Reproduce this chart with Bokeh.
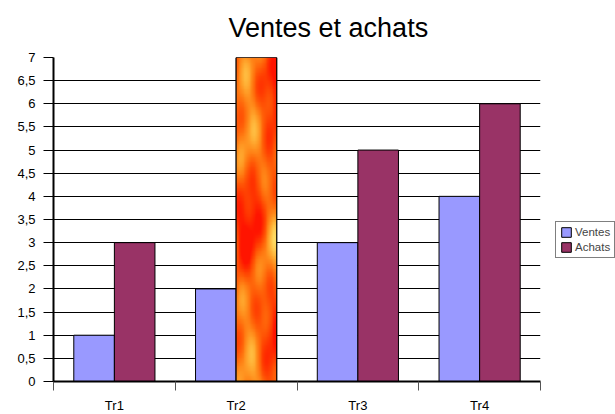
import numpy as np
from bokeh.plotting import figure
from bokeh.models import FixedTicker, Legend, LegendItem, ColumnDataSource
from bokeh.embed import file_html
from bokeh.resources import INLINE

categories = ["Tr1", "Tr2", "Tr3", "Tr4"]
ventes = [1, 2, 3, 4]
achats = [3, 7, 5, 6]
y_ticks = [0, 0.5, 1, 1.5, 2, 2.5, 3, 3.5, 4, 4.5, 5, 5.5, 6, 6.5, 7]
textured_index = 1  # the Tr2 "Achats" bar is drawn with a flame texture

BAR_W = 1 / 3
idx = np.arange(len(categories))
xv = idx + 0.5 - BAR_W / 2
xa = idx + 0.5 + BAR_W / 2

p = figure(width=607, height=406, frame_width=487, frame_height=324,
           x_range=(0, len(categories)), y_range=(0, 7),
           output_backend="svg", toolbar_location=None,
           min_border_left=53, min_border_top=0, min_border_right=67, min_border_bottom=20)
p.background_fill_color = "white"
p.border_fill_color = "white"
p.outline_line_color = None

p.title.text = "Ventes et achats"
p.title.text_font = "Liberation Sans"
p.title.text_font_size = "27px"
p.title.text_font_style = "normal"
p.title.text_color = "black"
p.title.align = "left"
p.title.vertical_align = "top"
p.title.offset = 175
p.title.standoff = 25

src_v = ColumnDataSource(dict(x=xv, top=ventes))
src_a = ColumnDataSource(dict(x=xa, top=achats))
rv = p.vbar(x="x", top="top", width=BAR_W, bottom=0, source=src_v,
            fill_color="#9999FF", line_color="black", line_width=1)
ra = p.vbar(x="x", top="top", width=BAR_W, bottom=0, source=src_a,
            fill_color="#993366", line_color="black", line_width=1)

# flame texture image for the textured bar
H, W = 200, 48
yy, xx = np.mgrid[0:H, 0:W]
u = xx / W
v = yy / H
t = (0.32
     + 0.30 * np.sin(2 * np.pi * (v * 1.3 + 0.15)) * np.cos(2 * np.pi * (u * 0.7 - 0.2))
     + 0.18 * np.sin(2 * np.pi * (v * 2.7 + u * 0.8 + 0.4)) * np.sin(2 * np.pi * (u * 1.2 + 0.1))
     + 0.10 * np.cos(2 * np.pi * (v * 4.5 - u * 1.1)))
t = np.clip(t, 0, 1)
r = np.full_like(t, 255.0)
g = 20 + 235 * t
b = 150 * t ** 2.5
img = np.zeros((H, W), dtype=np.uint32)
view = img.view(dtype=np.uint8).reshape((H, W, 4))
view[:, :, 0] = r.astype(np.uint8)
view[:, :, 1] = np.clip(g, 0, 255).astype(np.uint8)
view[:, :, 2] = np.clip(b, 0, 255).astype(np.uint8)
view[:, :, 3] = 255
ti = textured_index
p.image_rgba(image=[img], x=xa[ti] - BAR_W / 2, y=0, dw=BAR_W, dh=achats[ti])
p.vbar(x=[xa[ti]], top=[achats[ti]], width=BAR_W, bottom=0,
       fill_color=None, line_color="black", line_width=1)

# y axis
yax = p.yaxis[0]
yax.ticker = FixedTicker(ticks=y_ticks)
yax.major_label_overrides = {tk: (f"{tk:g}".replace(".", ",")) for tk in y_ticks}
yax.major_label_text_font = "Liberation Sans"
yax.major_label_text_font_size = "13px"
yax.major_label_text_color = "black"
yax.axis_line_color = "black"
yax.axis_line_width = 2
yax.major_tick_in = 0
yax.major_tick_out = 10
yax.major_tick_line_color = "black"
yax.minor_tick_line_color = None
yax.major_label_standoff = 8

# x axis: labels at centres, ticks at category boundaries
xax = p.xaxis[0]
centers = list(idx + 0.5)
xax.ticker = FixedTicker(ticks=centers, minor_ticks=list(range(len(categories) + 1)))
xax.major_label_overrides = {c: cat for c, cat in zip(centers, categories)}
xax.major_label_text_font = "Liberation Sans"
xax.major_label_text_font_size = "13px"
xax.major_label_text_color = "black"
xax.axis_line_color = "black"
xax.axis_line_width = 2
xax.major_tick_line_color = None
xax.major_tick_in = 0
xax.major_tick_out = 0
xax.minor_tick_in = 0
xax.minor_tick_out = 9
xax.minor_tick_line_color = "#555555"
xax.major_label_standoff = 7

p.xgrid.grid_line_color = None
p.ygrid.grid_line_color = "black"
p.ygrid.grid_line_width = 1

legend = Legend(items=[LegendItem(label="Ventes", renderers=[rv]),
                       LegendItem(label="Achats", renderers=[ra])],
                location=(15, 123), orientation="vertical",
                label_text_font="Liberation Sans", label_text_font_size="11.5px",
                glyph_width=12, glyph_height=12, label_standoff=3,
                spacing=3, padding=4, margin=0,
                border_line_color="black", border_line_width=1,
                label_height=12)
p.add_layout(legend, "right")

open("out.html", "w").write(file_html(p, INLINE))
